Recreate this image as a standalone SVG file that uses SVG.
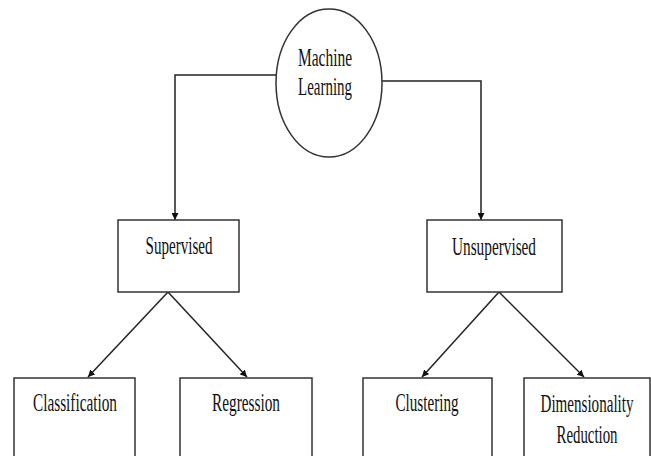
<svg xmlns="http://www.w3.org/2000/svg" width="651" height="456" viewBox="0 0 651 456">
<defs>
<marker id="arr" viewBox="0 0 10 10" refX="10" refY="5" markerWidth="7" markerHeight="7" markerUnits="userSpaceOnUse" orient="auto">
<path d="M0,0 L10,5 L0,10 z" fill="#111"/>
</marker>
<style>
.n{fill:#fff;stroke:#333;stroke-width:1.5}
.t{font-family:"Liberation Serif","Times New Roman",serif;font-size:25px;fill:#111;text-anchor:middle}
.c{fill:none;stroke:#222;stroke-width:1.5;marker-end:url(#arr)}
</style>
</defs>
<rect width="651" height="456" fill="#fff"/>
<g id="connectors">
<path class="c" d="M276.5,75 H175 V220"/>
<path class="c" d="M382,81 H481 V220"/>
<path class="c" d="M168,292 L88,377"/>
<path class="c" d="M168,292 L247,377"/>
<path class="c" d="M499,292 L422,377"/>
<path class="c" d="M499,292 L584,377"/>
</g>
<g id="machine-learning">
<ellipse class="n" cx="329" cy="83" rx="53" ry="74"/>
<text class="t" x="325" y="66" textLength="54" lengthAdjust="spacingAndGlyphs">Machine</text>
<text class="t" x="325" y="95" textLength="54" lengthAdjust="spacingAndGlyphs">Learning</text>
</g>
<g id="supervised">
<rect class="n" x="118" y="220" width="121" height="72"/>
<text class="t" x="179" y="254" textLength="67" lengthAdjust="spacingAndGlyphs">Supervised</text>
</g>
<g id="unsupervised">
<rect class="n" x="427" y="220" width="135" height="72"/>
<text class="t" x="494" y="255" textLength="84" lengthAdjust="spacingAndGlyphs">Unsupervised</text>
</g>
<g id="classification">
<rect class="n" x="14" y="378" width="121" height="90"/>
<text class="t" x="75" y="411" textLength="84" lengthAdjust="spacingAndGlyphs">Classification</text>
</g>
<g id="regression">
<rect class="n" x="180" y="378" width="132" height="90"/>
<text class="t" x="246" y="411" textLength="68" lengthAdjust="spacingAndGlyphs">Regression</text>
</g>
<g id="clustering">
<rect class="n" x="363" y="378" width="129" height="90"/>
<text class="t" x="427" y="411" textLength="63" lengthAdjust="spacingAndGlyphs">Clustering</text>
</g>
<g id="dimensionality-reduction">
<rect class="n" x="524" y="378" width="126" height="90"/>
<text class="t" x="587" y="412" textLength="93" lengthAdjust="spacingAndGlyphs">Dimensionality</text>
<text class="t" x="587" y="443" textLength="61" lengthAdjust="spacingAndGlyphs">Reduction</text>
</g>
</svg>
